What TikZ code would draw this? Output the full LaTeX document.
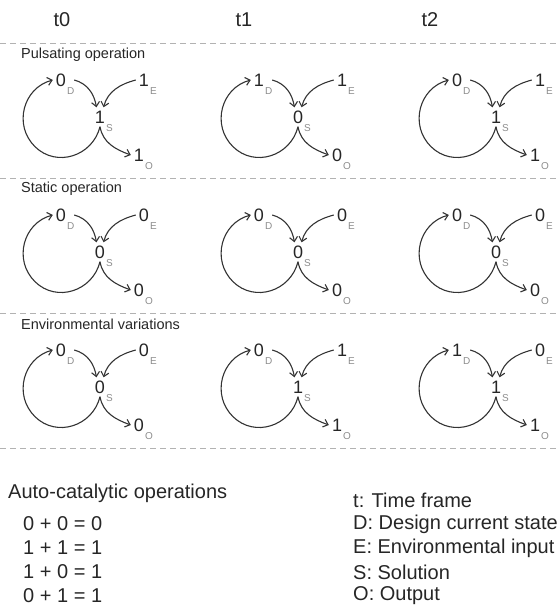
\documentclass[tikz,border=0pt]{standalone}
\usepackage{fontspec}
\setmainfont{Liberation Sans}
\usetikzlibrary{arrows.meta}

\begin{document}
\begin{tikzpicture}[
  x=1pt, y=1pt,
  num/.style={font=\fontsize{18}{18}\selectfont, text=black!85, inner sep=3pt, text height=13pt, text depth=0pt},
  sub/.style={font=\fontsize{10}{10}\selectfont, text=black!45, inner sep=0pt},
  flow/.style={draw=black!80, line width=1.1pt, -{Straight Barb[length=4.5pt, width=8pt]}},
  cycle/.style={flow, looseness=1.14},
  sep/.style={draw=black!30, line width=0.8pt, dash pattern=on 6pt off 4pt},
  head/.style={font=\fontsize{20}{20}\selectfont, text=black!85},
  rowlbl/.style={font=\fontsize{14.5}{14.5}\selectfont, text=black!85, anchor=west, inner sep=0pt},
  txt/.style={font=\fontsize{20}{20}\selectfont, text=black!85, anchor=west, inner sep=0pt},
  every label/.style={sub, label distance=-3.5pt}
]
  \useasboundingbox (0,0) rectangle (559,-609);

  % === Time frames ===
  \node[head] (t0) at (62,-20) {t0};
  \node[head] (t1) at (244,-20) {t1};
  \node[head] (t2) at (430,-20) {t2};

  % === Separators ===
  \draw[sep] (0,-43) -- (559,-43);
  \draw[sep] (0,-178) -- (559,-178);
  \draw[sep] (0,-313) -- (559,-313);
  \draw[sep] (0,-448) -- (559,-448);

  % === ROW 1: Pulsating operation ===
  \node[rowlbl] (lbl1) at (21,-55) {Pulsating operation};

  % t0
  \node[num, label={south east:D}] (d11) at (61,-80) {0};
  \node[num, label={south east:E}] (e11) at (144,-80) {1};
  \node[num, label={south east:S}] (s11) at (100,-117) {1};
  \node[num, label={south east:O}] (o11) at (139,-155) {1};
  \draw[flow] ([xshift=5pt]d11.east) to[out=-15, in=100] (s11.110);
  \draw[flow] (e11.west) to[out=195, in=75] (s11.70);
  \draw[flow] (s11.south) to[out=-80, in=160] (o11.west);
  \draw[cycle] (s11.south) to[out=-104, in=-44.5] ++(-65,-20) to[out=135.5, in=195] (d11.west);

  % t1
  \node[num, label={south east:D}] (d12) at (259,-80) {1};
  \node[num, label={south east:E}] (e12) at (342,-80) {1};
  \node[num, label={south east:S}] (s12) at (298,-117) {0};
  \node[num, label={south east:O}] (o12) at (337,-155) {0};
  \draw[flow] ([xshift=5pt]d12.east) to[out=-15, in=100] (s12.110);
  \draw[flow] (e12.west) to[out=195, in=75] (s12.70);
  \draw[flow] (s12.south) to[out=-80, in=160] (o12.west);
  \draw[cycle] (s12.south) to[out=-104, in=-44.5] ++(-65,-20) to[out=135.5, in=195] (d12.west);

  % t2
  \node[num, label={south east:D}] (d13) at (457,-80) {0};
  \node[num, label={south east:E}] (e13) at (540,-80) {1};
  \node[num, label={south east:S}] (s13) at (496,-117) {1};
  \node[num, label={south east:O}] (o13) at (535,-155) {1};
  \draw[flow] ([xshift=5pt]d13.east) to[out=-15, in=100] (s13.110);
  \draw[flow] (e13.west) to[out=195, in=75] (s13.70);
  \draw[flow] (s13.south) to[out=-80, in=160] (o13.west);
  \draw[cycle] (s13.south) to[out=-104, in=-44.5] ++(-65,-20) to[out=135.5, in=195] (d13.west);

  % === ROW 2: Static operation ===
  \node[rowlbl] (lbl2) at (21,-189) {Static operation};

  % t0
  \node[num, label={south east:D}] (d21) at (61,-215) {0};
  \node[num, label={south east:E}] (e21) at (144,-215) {0};
  \node[num, label={south east:S}] (s21) at (100,-252) {0};
  \node[num, label={south east:O}] (o21) at (139,-290) {0};
  \draw[flow] ([xshift=5pt]d21.east) to[out=-15, in=100] (s21.110);
  \draw[flow] (e21.west) to[out=195, in=75] (s21.70);
  \draw[flow] (s21.south) to[out=-80, in=160] (o21.west);
  \draw[cycle] (s21.south) to[out=-104, in=-44.5] ++(-65,-20) to[out=135.5, in=195] (d21.west);

  % t1
  \node[num, label={south east:D}] (d22) at (259,-215) {0};
  \node[num, label={south east:E}] (e22) at (342,-215) {0};
  \node[num, label={south east:S}] (s22) at (298,-252) {0};
  \node[num, label={south east:O}] (o22) at (337,-290) {0};
  \draw[flow] ([xshift=5pt]d22.east) to[out=-15, in=100] (s22.110);
  \draw[flow] (e22.west) to[out=195, in=75] (s22.70);
  \draw[flow] (s22.south) to[out=-80, in=160] (o22.west);
  \draw[cycle] (s22.south) to[out=-104, in=-44.5] ++(-65,-20) to[out=135.5, in=195] (d22.west);

  % t2
  \node[num, label={south east:D}] (d23) at (457,-215) {0};
  \node[num, label={south east:E}] (e23) at (540,-215) {0};
  \node[num, label={south east:S}] (s23) at (496,-252) {0};
  \node[num, label={south east:O}] (o23) at (535,-290) {0};
  \draw[flow] ([xshift=5pt]d23.east) to[out=-15, in=100] (s23.110);
  \draw[flow] (e23.west) to[out=195, in=75] (s23.70);
  \draw[flow] (s23.south) to[out=-80, in=160] (o23.west);
  \draw[cycle] (s23.south) to[out=-104, in=-44.5] ++(-65,-20) to[out=135.5, in=195] (d23.west);

  % === ROW 3: Environmental variations ===
  \node[rowlbl] (lbl3) at (21,-324) {Environmental variations};

  % t0
  \node[num, label={south east:D}] (d31) at (61,-350) {0};
  \node[num, label={south east:E}] (e31) at (144,-350) {0};
  \node[num, label={south east:S}] (s31) at (100,-387) {0};
  \node[num, label={south east:O}] (o31) at (139,-425) {0};
  \draw[flow] ([xshift=5pt]d31.east) to[out=-15, in=100] (s31.110);
  \draw[flow] (e31.west) to[out=195, in=75] (s31.70);
  \draw[flow] (s31.south) to[out=-80, in=160] (o31.west);
  \draw[cycle] (s31.south) to[out=-104, in=-44.5] ++(-65,-20) to[out=135.5, in=195] (d31.west);

  % t1
  \node[num, label={south east:D}] (d32) at (259,-350) {0};
  \node[num, label={south east:E}] (e32) at (342,-350) {1};
  \node[num, label={south east:S}] (s32) at (298,-387) {1};
  \node[num, label={south east:O}] (o32) at (337,-425) {1};
  \draw[flow] ([xshift=5pt]d32.east) to[out=-15, in=100] (s32.110);
  \draw[flow] (e32.west) to[out=195, in=75] (s32.70);
  \draw[flow] (s32.south) to[out=-80, in=160] (o32.west);
  \draw[cycle] (s32.south) to[out=-104, in=-44.5] ++(-65,-20) to[out=135.5, in=195] (d32.west);

  % t2
  \node[num, label={south east:D}] (d33) at (457,-350) {1};
  \node[num, label={south east:E}] (e33) at (540,-350) {0};
  \node[num, label={south east:S}] (s33) at (496,-387) {1};
  \node[num, label={south east:O}] (o33) at (535,-425) {1};
  \draw[flow] ([xshift=5pt]d33.east) to[out=-15, in=100] (s33.110);
  \draw[flow] (e33.west) to[out=195, in=75] (s33.70);
  \draw[flow] (s33.south) to[out=-80, in=160] (o33.west);
  \draw[cycle] (s33.south) to[out=-104, in=-44.5] ++(-65,-20) to[out=135.5, in=195] (d33.west);

  % === Auto-catalytic operations ===
  \node[txt] (ops) at (8,-493) {Auto-catalytic operations};
  \node[txt] (op1) at (23,-524) {0 + 0 = 0};
  \node[txt] (op2) at (23,-548) {1 + 1 = 1};
  \node[txt] (op3) at (23,-572) {1 + 0 = 1};
  \node[txt] (op4) at (23,-596) {0 + 1 = 1};

  % === Legend ===
  \node[txt] (lgt) at (353,-500) {t: Time frame};
  \node[txt] (lgd) at (353,-524) {D: Design current state};
  \node[txt] (lge) at (353,-548) {E: Environmental input};
  \node[txt] (lgs) at (353,-572) {S: Solution};
  \node[txt] (lgo) at (353,-596) {O: Output};
\end{tikzpicture}
\end{document}
